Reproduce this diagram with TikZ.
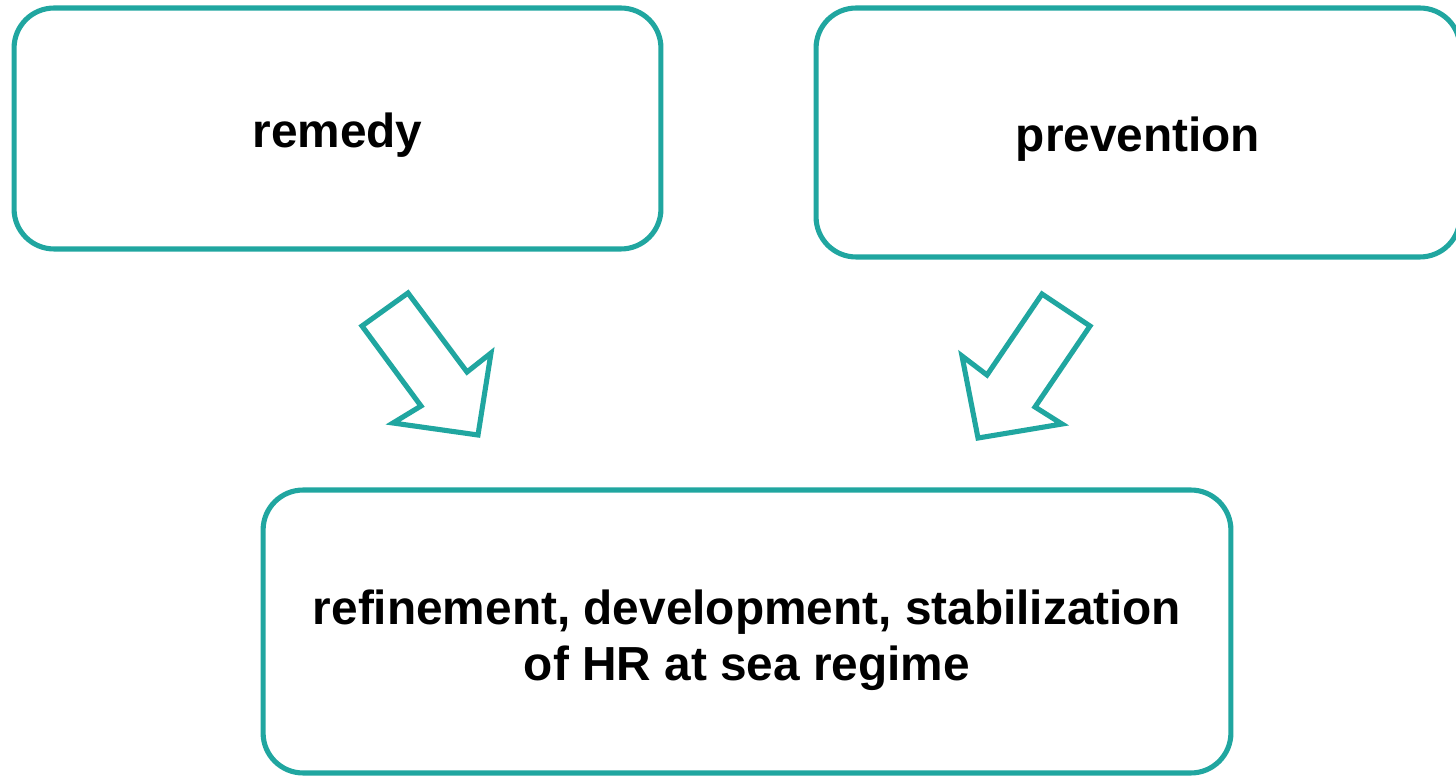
\documentclass[tikz,border=0pt]{standalone}
\usepackage{fontspec}
\setmainfont{Liberation Sans}
\usepackage{tikz}
\definecolor{tealline}{RGB}{32,166,160}

\begin{document}
\begin{tikzpicture}[x=0.02cm,y=-0.02cm,
  box/.style={draw=tealline,line width=2.9pt,rounded corners=0.8cm,
    align=center,font=\bfseries\fontsize{27.2}{32}\selectfont},
  blockarrow/.style={draw=tealline,line width=2.9pt,line join=miter,fill=white}]
\clip (0,0)
rectangle (1456,776);
\node[box,minimum width=12.94cm,minimum height=4.82cm,text height=27pt]
  (remedy) at (337.5,128.5) {remedy};
\node[box,minimum width=12.88cm,minimum height=4.98cm,text height=27pt]
  (prevention) at (1138,132.5) {prevention};
\node[box,minimum width=19.36cm,minimum height=5.66cm,text height=62pt]
  (regime) at (747,631.5)
  {refinement, development, stabilization\\of HR at sea regime};
% block arrows
\draw[blockarrow] (408,293) -- (362,326)
-- (421,406) -- (393,423) -- (478,435)
-- (491,353) -- (467,372) -- cycle;
\draw[blockarrow] (1042,294) -- (1090,326)
-- (1035,407) -- (1062,424) -- (978,438)
-- (962,356) -- (987,375) -- cycle;
\end{tikzpicture}
\end{document}
